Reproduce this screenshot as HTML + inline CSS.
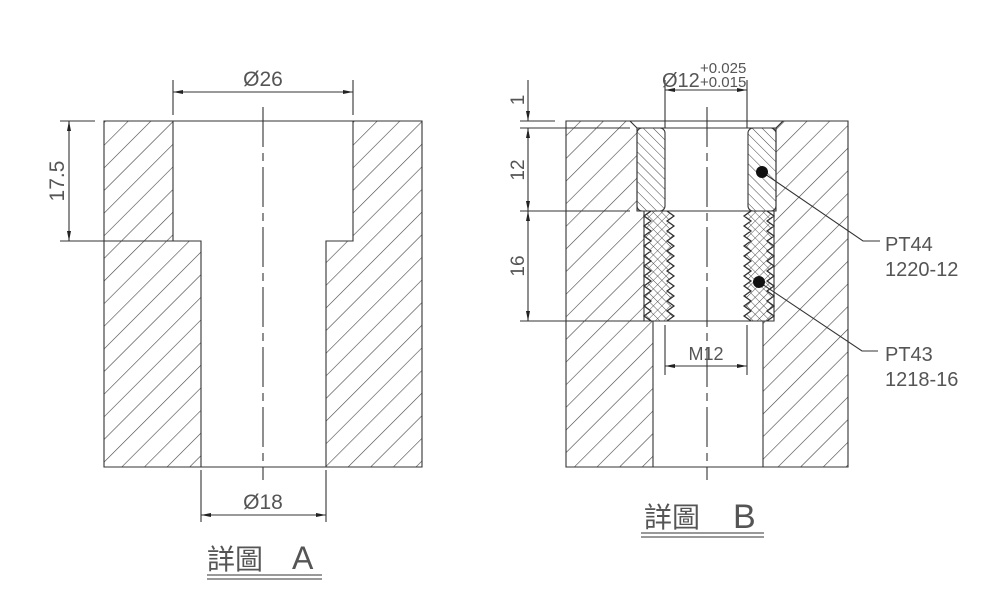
<!DOCTYPE html>
<html><head><meta charset="utf-8"><style>
html,body{margin:0;padding:0;background:#fff;width:1000px;height:612px;overflow:hidden}
text{font-family:"Liberation Sans","Noto Sans CJK TC",sans-serif;fill:#555}
</style></head><body>
<svg width="1000" height="612" viewBox="0 0 1000 612" xmlns="http://www.w3.org/2000/svg">
<defs>
<pattern id="h1" patternUnits="userSpaceOnUse" width="16" height="16" patternTransform="rotate(45)">
<line x1="0" y1="0" x2="0" y2="16" stroke="#444" stroke-width="1.2"/></pattern>
<pattern id="h2" patternUnits="userSpaceOnUse" width="7" height="7" patternTransform="rotate(-45)">
<line x1="0" y1="0" x2="0" y2="7" stroke="#444" stroke-width="1"/></pattern>
<pattern id="h3" patternUnits="userSpaceOnUse" width="6" height="6" patternTransform="rotate(45)">
<line x1="0" y1="0" x2="0" y2="6" stroke="#444" stroke-width="0.9"/><line x1="0" y1="0" x2="6" y2="0" stroke="#444" stroke-width="0.9"/></pattern>
<marker id="ar" viewBox="0 0 10 4" refX="10" refY="2" markerWidth="13" markerHeight="4" markerUnits="userSpaceOnUse" orient="auto-start-reverse">
<path d="M0,0 L10,2 L0,4 z" fill="#222"/></marker>
</defs>
<g stroke="#333" stroke-width="1.1" fill="none">
<!-- Drawing A -->
<path fill-rule="evenodd" fill="url(#h1)" d="M104,121 H422 V467 H104 Z M173,121 H353 V241 H326 V467 H201 V241 H173 Z"/>
<line x1="263" y1="107" x2="263" y2="480" stroke-dasharray="40,6,8,6"/>
<line x1="173" y1="80" x2="173" y2="115"/><line x1="353" y1="80" x2="353" y2="115"/>
<line x1="173" y1="92" x2="353" y2="92" marker-start="url(#ar)" marker-end="url(#ar)"/>
<line x1="60" y1="121" x2="95" y2="121"/><line x1="60" y1="241" x2="173" y2="241"/>
<line x1="69" y1="121" x2="69" y2="241" marker-start="url(#ar)" marker-end="url(#ar)"/>
<line x1="201" y1="470" x2="201" y2="522"/><line x1="326" y1="470" x2="326" y2="522"/>
<line x1="201" y1="515" x2="326" y2="515" marker-start="url(#ar)" marker-end="url(#ar)"/>
<line x1="207" y1="575" x2="322" y2="575"/><line x1="207" y1="579" x2="322" y2="579"/>
<!-- Drawing B -->
<path fill-rule="evenodd" fill="url(#h1)" d="M566,121 H848 V467 H566 Z M630,121 H783 L776,128 V211 H774 V321 H763 V467 H653 V321 H644 V211 H637 V128 Z"/>
<line x1="520" y1="121" x2="555" y2="121"/><line x1="520" y1="128" x2="630" y2="128"/>
<line x1="637" y1="128" x2="776" y2="128"/>
<line x1="520" y1="211" x2="630" y2="211"/><line x1="637" y1="211" x2="776" y2="211"/>
<line x1="520" y1="321" x2="650" y2="321"/><line x1="653" y1="321" x2="763" y2="321"/>
<rect x="637" y="128" width="28" height="83" rx="5" fill="url(#h2)"/>
<rect x="748" y="128" width="28" height="83" rx="5" fill="url(#h2)"/>
<g fill="#fff">
<polygon points="651,211 644,216 651,221 644,226 651,231 644,236 651,241 644,246 651,251 644,256 651,261 644,266 651,271 644,276 651,281 644,286 651,291 644,296 651,301 644,306 651,311 644,316 651,321 667,321 674,316 667,311 674,306 667,301 674,296 667,291 674,286 667,281 674,276 667,271 674,266 667,261 674,256 667,251 674,246 667,241 674,236 667,231 674,226 667,221 674,216 667,211"/>
<polygon points="751,211 744,216 751,221 744,226 751,231 744,236 751,241 744,246 751,251 744,256 751,261 744,266 751,271 744,276 751,281 744,286 751,291 744,296 751,301 744,306 751,311 744,316 751,321 767,321 774,316 767,311 774,306 767,301 774,296 767,291 774,286 767,281 774,276 767,271 774,266 767,261 774,256 767,251 774,246 767,241 774,236 767,231 774,226 767,221 774,216 767,211"/>
</g>
<polygon fill="url(#h3)" points="651,211 644,216 651,221 644,226 651,231 644,236 651,241 644,246 651,251 644,256 651,261 644,266 651,271 644,276 651,281 644,286 651,291 644,296 651,301 644,306 651,311 644,316 651,321 667,321 674,316 667,311 674,306 667,301 674,296 667,291 674,286 667,281 674,276 667,271 674,266 667,261 674,256 667,251 674,246 667,241 674,236 667,231 674,226 667,221 674,216 667,211"/>
<polygon fill="url(#h3)" points="751,211 744,216 751,221 744,226 751,231 744,236 751,241 744,246 751,251 744,256 751,261 744,266 751,271 744,276 751,281 744,286 751,291 744,296 751,301 744,306 751,311 744,316 751,321 767,321 774,316 767,311 774,306 767,301 774,296 767,291 774,286 767,281 774,276 767,271 774,266 767,261 774,256 767,251 774,246 767,241 774,236 767,231 774,226 767,221 774,216 767,211"/>
<line x1="707" y1="107" x2="707" y2="480" stroke-dasharray="40,6,8,6"/>
<line x1="665" y1="80" x2="665" y2="128"/><line x1="747" y1="80" x2="747" y2="128"/>
<line x1="665" y1="90" x2="747" y2="90" marker-start="url(#ar)" marker-end="url(#ar)"/>
<line x1="528" y1="80" x2="528" y2="121" marker-end="url(#ar)"/>
<line x1="528" y1="128" x2="528" y2="211" marker-start="url(#ar)" marker-end="url(#ar)"/>
<line x1="528" y1="211" x2="528" y2="321" marker-start="url(#ar)" marker-end="url(#ar)"/>
<line x1="665" y1="325" x2="665" y2="375"/><line x1="747" y1="325" x2="747" y2="375"/>
<line x1="665" y1="366" x2="747" y2="366" marker-start="url(#ar)" marker-end="url(#ar)"/>
<polyline points="762,172 863,241 880,241"/>
<polyline points="759,282 862,351 878,351"/>
<line x1="641" y1="533" x2="764" y2="533"/><line x1="641" y1="537" x2="764" y2="537"/>
</g>
<circle cx="762" cy="172" r="6" fill="#111"/>
<circle cx="759" cy="282" r="6" fill="#111"/>
<text x="263" y="86" font-size="21" text-anchor="middle">Ø26</text>
<text x="0" y="0" font-size="21" text-anchor="middle" transform="translate(64,181) rotate(-90)">17.5</text>
<text x="263" y="509" font-size="21" text-anchor="middle">Ø18</text>
<text x="207" y="569" font-size="28">詳圖</text>
<text x="292" y="569" font-size="32">A</text>
<text x="662" y="87" font-size="20">Ø12</text>
<text x="700" y="87" font-size="15">+0.015</text>
<text x="700" y="73" font-size="15">+0.025</text>
<text x="0" y="0" font-size="19" text-anchor="middle" transform="translate(524,100) rotate(-90)">1</text>
<text x="0" y="0" font-size="19" text-anchor="middle" transform="translate(524,170) rotate(-90)">12</text>
<text x="0" y="0" font-size="19" text-anchor="middle" transform="translate(524,266) rotate(-90)">16</text>
<text x="706" y="360" font-size="18" text-anchor="middle">M12</text>
<text x="885" y="251" font-size="20">PT44</text>
<text x="885" y="276" font-size="20">1220-12</text>
<text x="885" y="361" font-size="20">PT43</text>
<text x="885" y="386" font-size="20">1218-16</text>
<text x="644" y="527" font-size="28">詳圖</text>
<text x="733" y="528" font-size="34">B</text>
</svg>
</body></html>
